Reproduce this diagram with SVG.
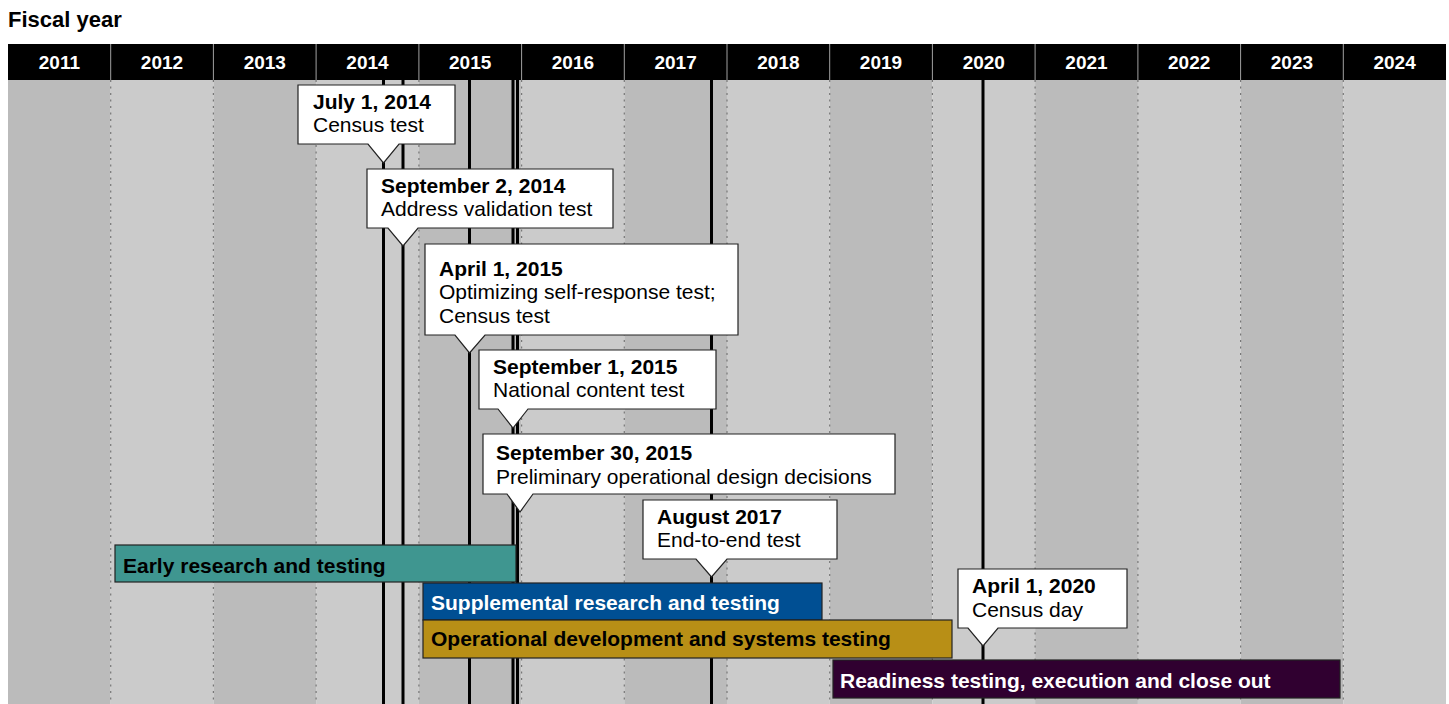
<svg xmlns="http://www.w3.org/2000/svg" width="1449" height="704" viewBox="0 0 1449 704">
<style>
text{font-family:"Liberation Sans",Arial,sans-serif}
.title{font-size:22px;font-weight:bold;fill:#000}
.yr{font-size:19px;font-weight:bold;fill:#fff;text-anchor:middle}
.colD{fill:#bbbbbb}
.colL{fill:#cbcbcb}
.grid{stroke:#777;stroke-width:1.2;stroke-dasharray:2 4.5}
.hsep{stroke:#a0a0a0;stroke-width:1}
.ms{stroke:#000;stroke-width:3}
.call{fill:#fff;stroke:#222;stroke-width:1.2}
.cb{font-size:21px;font-weight:bold;fill:#000}
.cn{font-size:21px;fill:#000}
.bar{stroke:#222;stroke-width:1.2}
.bt{font-size:21px;font-weight:bold}
</style>
<rect x="0" y="0" width="1449" height="704" fill="#fff"/>
<text class="title" x="8" y="27">Fiscal year</text>
<g id="columns">
<rect class="colD" x="8" y="80" width="102.7" height="624"/>
<rect class="colL" x="110.7" y="80" width="102.7" height="624"/>
<rect class="colD" x="213.4" y="80" width="102.7" height="624"/>
<rect class="colL" x="316.1" y="80" width="102.8" height="624"/>
<rect class="colD" x="418.9" y="80" width="102.7" height="624"/>
<rect class="colL" x="521.6" y="80" width="102.7" height="624"/>
<rect class="colD" x="624.3" y="80" width="102.7" height="624"/>
<rect class="colL" x="727" y="80" width="102.7" height="624"/>
<rect class="colD" x="829.7" y="80" width="102.7" height="624"/>
<rect class="colL" x="932.4" y="80" width="102.7" height="624"/>
<rect class="colD" x="1035.1" y="80" width="102.8" height="624"/>
<rect class="colL" x="1137.9" y="80" width="102.7" height="624"/>
<rect class="colD" x="1240.6" y="80" width="102.7" height="624"/>
<rect class="colL" x="1343.3" y="80" width="102.7" height="624"/>
</g>
<g id="grid">
<line class="grid" x1="110.7" y1="80" x2="110.7" y2="704"/>
<line class="grid" x1="213.4" y1="80" x2="213.4" y2="704"/>
<line class="grid" x1="316.1" y1="80" x2="316.1" y2="704"/>
<line class="grid" x1="418.9" y1="80" x2="418.9" y2="704"/>
<line class="grid" x1="521.6" y1="80" x2="521.6" y2="704"/>
<line class="grid" x1="624.3" y1="80" x2="624.3" y2="704"/>
<line class="grid" x1="727" y1="80" x2="727" y2="704"/>
<line class="grid" x1="829.7" y1="80" x2="829.7" y2="704"/>
<line class="grid" x1="932.4" y1="80" x2="932.4" y2="704"/>
<line class="grid" x1="1035.1" y1="80" x2="1035.1" y2="704"/>
<line class="grid" x1="1137.9" y1="80" x2="1137.9" y2="704"/>
<line class="grid" x1="1240.6" y1="80" x2="1240.6" y2="704"/>
<line class="grid" x1="1343.3" y1="80" x2="1343.3" y2="704"/>
</g>
<g id="header">
<rect x="8" y="44" width="1438" height="36" fill="#000"/>
<line class="hsep" x1="110.7" y1="44" x2="110.7" y2="80"/>
<line class="hsep" x1="213.4" y1="44" x2="213.4" y2="80"/>
<line class="hsep" x1="316.1" y1="44" x2="316.1" y2="80"/>
<line class="hsep" x1="418.9" y1="44" x2="418.9" y2="80"/>
<line class="hsep" x1="521.6" y1="44" x2="521.6" y2="80"/>
<line class="hsep" x1="624.3" y1="44" x2="624.3" y2="80"/>
<line class="hsep" x1="727" y1="44" x2="727" y2="80"/>
<line class="hsep" x1="829.7" y1="44" x2="829.7" y2="80"/>
<line class="hsep" x1="932.4" y1="44" x2="932.4" y2="80"/>
<line class="hsep" x1="1035.1" y1="44" x2="1035.1" y2="80"/>
<line class="hsep" x1="1137.9" y1="44" x2="1137.9" y2="80"/>
<line class="hsep" x1="1240.6" y1="44" x2="1240.6" y2="80"/>
<line class="hsep" x1="1343.3" y1="44" x2="1343.3" y2="80"/>
<text class="yr" x="59.4" y="69">2011</text>
<text class="yr" x="162" y="69">2012</text>
<text class="yr" x="264.8" y="69">2013</text>
<text class="yr" x="367.5" y="69">2014</text>
<text class="yr" x="470.2" y="69">2015</text>
<text class="yr" x="572.9" y="69">2016</text>
<text class="yr" x="675.6" y="69">2017</text>
<text class="yr" x="778.4" y="69">2018</text>
<text class="yr" x="881" y="69">2019</text>
<text class="yr" x="983.8" y="69">2020</text>
<text class="yr" x="1086.5" y="69">2021</text>
<text class="yr" x="1189.2" y="69">2022</text>
<text class="yr" x="1291.9" y="69">2023</text>
<text class="yr" x="1394.6" y="69">2024</text>
</g>
<g id="connectors">
<line class="ms" x1="383.5" y1="80" x2="383.5" y2="704"/>
<line class="ms" x1="403" y1="80" x2="403" y2="704"/>
<line class="ms" x1="469.5" y1="80" x2="469.5" y2="704"/>
<line class="ms" x1="513" y1="80" x2="513" y2="704"/>
<line class="ms" x1="517.5" y1="80" x2="517.5" y2="704"/>
<line class="ms" x1="711.5" y1="80" x2="711.5" y2="704"/>
<line class="ms" x1="983" y1="80" x2="983" y2="704"/>
</g>
<g id="bar-early">
<rect class="bar" x="115" y="545" width="401" height="37" fill="#3f9690"/>
<text class="bt" x="123" y="573" fill="#000">Early research and testing</text>
</g>
<g id="bar-supplemental">
<rect class="bar" x="423" y="583" width="399" height="37" fill="#004f93"/>
<text class="bt" x="431" y="610" fill="#fff">Supplemental research and testing</text>
</g>
<g id="bar-operational">
<rect class="bar" x="423" y="620" width="529" height="38" fill="#b88f16"/>
<text class="bt" x="431" y="646" fill="#000">Operational development and systems testing</text>
</g>
<g id="bar-readiness">
<rect class="bar" x="833" y="660" width="507" height="38" fill="#300030"/>
<text class="bt" x="840" y="688" fill="#fff">Readiness testing, execution and close out</text>
</g>
<g id="callout-jul2014">
<path class="call" d="M298,85 H455 V144 H399 L383.5,163 L368,144 H298 Z"/>
<text class="cb" x="313" y="109">July 1, 2014</text>
<text class="cn" x="313" y="132">Census test</text>
</g>
<g id="callout-sep2014">
<path class="call" d="M367,169 H613 V228 H418 L403,246 L388,228 H367 Z"/>
<text class="cb" x="381" y="193">September 2, 2014</text>
<text class="cn" x="381" y="216">Address validation test</text>
</g>
<g id="callout-apr2015">
<path class="call" d="M425,244 H738 V335 H485 L469.5,353 L455,335 H425 Z"/>
<text class="cb" x="439" y="276">April 1, 2015</text>
<text class="cn" x="439" y="299">Optimizing self-response test;</text>
<text class="cn" x="439" y="323">Census test</text>
</g>
<g id="callout-sep2015">
<path class="call" d="M479,350 H716 V409 H528 L513,428 L498,409 H479 Z"/>
<text class="cb" x="493" y="374">September 1, 2015</text>
<text class="cn" x="493" y="397">National content test</text>
</g>
<g id="callout-sep30-2015">
<path class="call" d="M483,434 H895 V494 H533 L520,512 L507,494 H483 Z"/>
<text class="cb" x="496" y="460">September 30, 2015</text>
<text class="cn" x="496" y="484">Preliminary operational design decisions</text>
</g>
<g id="callout-aug2017">
<path class="call" d="M643,500 H837 V559 H727 L711.5,577 L696,559 H643 Z"/>
<text class="cb" x="657" y="524">August 2017</text>
<text class="cn" x="657" y="547">End-to-end test</text>
</g>
<g id="callout-apr2020">
<path class="call" d="M958,569 H1127 V628 H998 L983,646 L968,628 H958 Z"/>
<text class="cb" x="972" y="593">April 1, 2020</text>
<text class="cn" x="972" y="617">Census day</text>
</g>
</svg>
